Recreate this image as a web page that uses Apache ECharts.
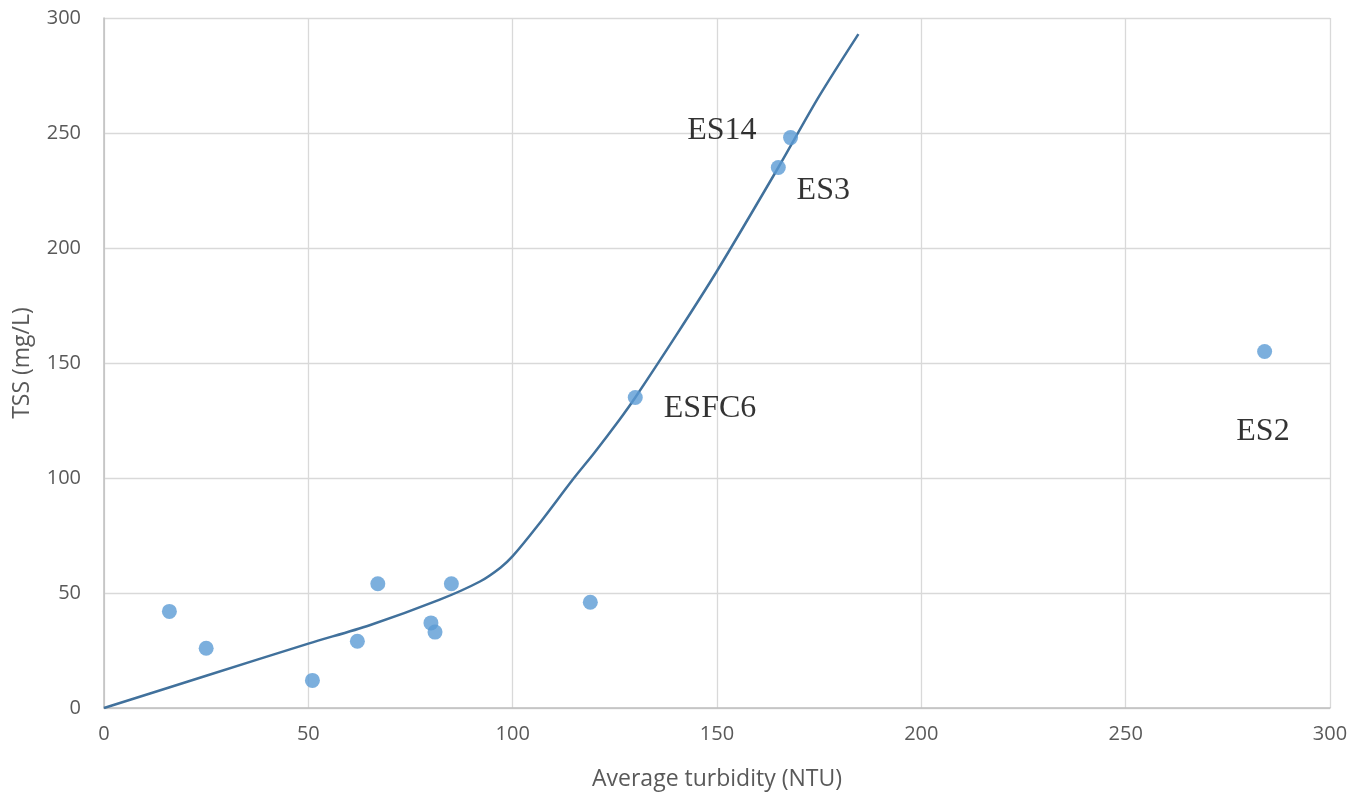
<!DOCTYPE html>
<html>
<head>
<meta charset="utf-8">
<script src="https://cdn.jsdelivr.net/npm/echarts@6/dist/echarts.min.js"></script>
<style>html,body{margin:0;padding:0;background:#fff}#c{width:1364px;height:794px}</style>
</head>
<body>
<div id="c"></div>
<script>
// Measured points: [turbidity NTU, TSS mg/L]
const pointsX = [16, 25, 51, 62, 67, 80, 81, 85, 119, 130, 165, 168, 284];
const pointsY = [42, 26, 12, 29, 54, 37, 33, 54, 46, 135, 235, 248, 155];
// Trend curve
const curveX = [0, 25, 50, 65, 82, 92, 97, 100, 106, 115, 120, 126, 130, 140, 150, 165, 175, 184.6];
const curveY = [0, 14, 28, 36, 47, 55, 61, 66, 79, 100, 111, 125, 135, 162, 190, 235, 266, 293];
// Site labels
const labelText = ['ES14', 'ES3', 'ESFC6', 'ES2'];
const labelX = [151.2, 176, 148.3, 283.6];
const labelY = [251, 225, 130, 120];
const xTicks = [0, 50, 100, 150, 200, 250, 300];
const yTicks = [0, 50, 100, 150, 200, 250, 300];

const chart = echarts.init(document.getElementById('c'), null, {renderer: 'canvas'});
const option = {
  animation: false,
  backgroundColor: '#ffffff',
  grid: {left: 104, right: 34, top: 18, bottom: 86, containLabel: false, outerBoundsMode: 'none'},
  xAxis: {
    type: 'value', min: xTicks[0], max: xTicks[xTicks.length - 1], interval: 50,
    name: 'Average turbidity (NTU)', nameLocation: 'middle', nameGap: 60,
    nameTextStyle: {fontFamily: 'Open Sans', fontSize: 23, color: '#595959'},
    axisLine: {show: true, lineStyle: {color: '#bfbfbf', width: 1.5}},
    axisTick: {show: false},
    axisLabel: {fontFamily: 'Open Sans', fontSize: 20, color: '#595959', margin: 16},
    splitLine: {show: true, lineStyle: {color: '#d9d9d9', width: 1.3}}
  },
  yAxis: {
    type: 'value', min: yTicks[0], max: yTicks[yTicks.length - 1], interval: 50,
    name: 'TSS (mg/L)', nameLocation: 'middle', nameGap: 70,
    nameTextStyle: {fontFamily: 'Open Sans', fontSize: 23, color: '#595959'},
    axisLine: {show: true, lineStyle: {color: '#bfbfbf', width: 1.5}},
    axisTick: {show: false},
    axisLabel: {fontFamily: 'Open Sans', fontSize: 20, color: '#595959', margin: 23},
    splitLine: {show: true, lineStyle: {color: '#d9d9d9', width: 1.3}}
  },
  series: [
    {
      type: 'line', smooth: 0.3, symbol: 'none', z: 2,
      lineStyle: {color: '#41719c', width: 2.5},
      data: curveX.map((x, i) => [x, curveY[i]])
    },
    {
      type: 'scatter', symbolSize: 15, z: 3,
      itemStyle: {color: '#5b9bd5'},
      data: pointsX.map((x, i) => [x, pointsY[i]])
    },
    {
      type: 'scatter', symbolSize: 1, z: 4,
      itemStyle: {color: 'rgba(0,0,0,0)'},
      label: {
        show: true, position: 'inside',
        formatter: p => labelText[p.dataIndex],
        fontFamily: 'Liberation Serif', fontSize: 32, color: '#000000'
      },
      data: labelX.map((x, i) => [x, labelY[i]])
    }
  ]
};
chart.setOption(option);
</script>
</body>
</html>
